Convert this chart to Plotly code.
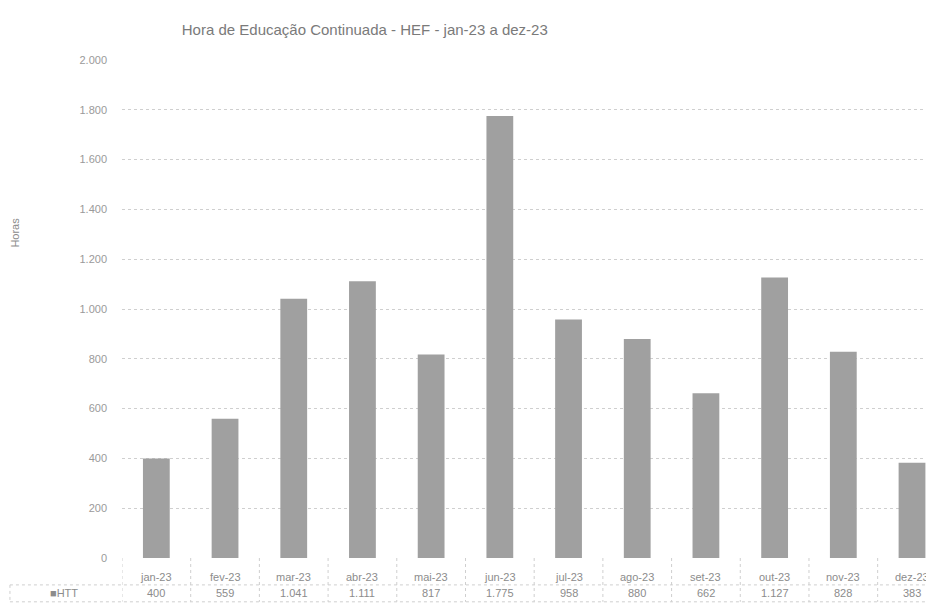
import plotly.graph_objs as go

meses = ['jan-23', 'fev-23', 'mar-23', 'abr-23', 'mai-23', 'jun-23',
         'jul-23', 'ago-23', 'set-23', 'out-23', 'nov-23', 'dez-23']
htt = [400, 559, 1041, 1111, 817, 1775, 958, 880, 662, 1127, 828, 383]
y_ticks = [0, 200, 400, 600, 800, 1000, 1200, 1400, 1600, 1800, 2000]

cinza_txt = '#8c8c8c'
cinza_linha = '#cfcfcf'
fonte = 'Liberation Sans, Arial, sans-serif'


def fmt_br(v):
    return f"{v:,}".replace(',', '.')


fig = go.Figure()
fig.add_trace(go.Bar(x=list(range(len(meses))), y=htt, name='HTT',
                     marker=dict(color='#a0a0a0', line=dict(width=0))))

# tabela de dados abaixo do eixo
anns = []
for i, (m, v) in enumerate(zip(meses, htt)):
    anns.append(dict(x=i, y=-0.038, xref='x', yref='paper', text=m, showarrow=False,
                     font=dict(size=11, color=cinza_txt, family=fonte), yanchor='middle'))
    anns.append(dict(x=i, y=-0.071, xref='x', yref='paper', text=fmt_br(v), showarrow=False,
                     font=dict(size=11, color=cinza_txt, family=fonte), yanchor='middle'))
anns.append(dict(x=-0.091, y=-0.071, xref='paper', yref='paper', text='■HTT', showarrow=False,
                 font=dict(size=11, color=cinza_txt, family=fonte), yanchor='middle'))
anns.append(dict(x=-0.132, y=0.653, xref='paper', yref='paper', text='Horas', showarrow=False,
                 xanchor='center', yanchor='middle', textangle=-90,
                 font=dict(size=11, color=cinza_txt, family=fonte)))

shapes = []
linha = dict(color=cinza_linha, width=1, dash='dot')
for i in range(len(meses) + 1):
    shapes.append(dict(type='line', xref='x', yref='paper', x0=i - 0.5, x1=i - 0.5,
                       y0=0, y1=-0.088, line=linha))
shapes.append(dict(type='line', xref='paper', yref='paper', x0=-0.138, x1=1,
                   y0=-0.054, y1=-0.054, line=linha))
shapes.append(dict(type='line', xref='paper', yref='paper', x0=-0.138, x1=1,
                   y0=-0.088, y1=-0.088, line=linha))
shapes.append(dict(type='line', xref='paper', yref='paper', x0=-0.138, x1=-0.138,
                   y0=-0.054, y1=-0.088, line=linha))

fig.update_layout(
    width=934, height=608,
    margin=dict(l=114, r=8, t=52, b=58),
    paper_bgcolor='white', plot_bgcolor='white',
    separators=',.',
    showlegend=False,
    bargap=0.61,
    font=dict(family=fonte, color=cinza_txt),
    title=dict(text='Hora de Educação Continuada - HEF - jan-23 a dez-23',
               xref='container', x=0.382, xanchor='center',
               yref='container', y=0.964, yanchor='middle',
               font=dict(size=15, color='#7a7a7a', family=fonte)),
    xaxis=dict(range=[-0.5, 11.32], showticklabels=False, showgrid=False,
               zeroline=False, showline=False, ticks=''),
    yaxis=dict(range=[0, 2000], tickvals=y_ticks, tickformat=',d',
               showgrid=True, gridcolor=cinza_linha, griddash='dot', gridwidth=1,
               zeroline=False, showline=False, ticks='', ticklabelstandoff=14,
               tickfont=dict(size=11, color='#9a9a9a', family=fonte)),
    annotations=anns,
    shapes=shapes,
)

fig.write_html("out.html")
